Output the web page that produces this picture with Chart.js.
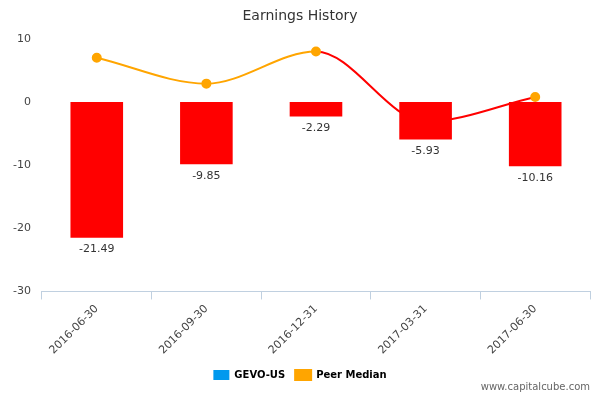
<!DOCTYPE html>
<html>
<head>
<script src="https://cdn.jsdelivr.net/npm/chart.js@4"></script>
<style>
  body { margin: 0; background: #fff; }
  #wrap { width: 600px; height: 400px; position: relative; }
  #mark { position: absolute; right: 10px; bottom: 8px; font: 10px "DejaVu Sans", sans-serif; color: #666; }
</style>
</head>
<body>
<div id="wrap"><canvas id="chart" width="600" height="400"></canvas><div id="mark">www.capitalcube.com</div></div>
<script>
const categories = ["2016-06-30", "2016-09-30", "2016-12-31", "2017-03-31", "2017-06-30"];
const earnings = [-21.49, -9.85, -2.29, -5.93, -10.16];
const peerMedian = [7, 2.9, 8, -3.1, 0.8];
const yTicks = [10, 0, -10, -20, -30];

const barLabels = {
  id: "barLabels",
  afterDatasetsDraw(chart) {
    const ctx = chart.ctx;
    const meta = chart.getDatasetMeta(0);
    ctx.save();
    ctx.font = "11px 'DejaVu Sans', sans-serif";
    ctx.fillStyle = "#333";
    ctx.textAlign = "center";
    ctx.textBaseline = "top";
    meta.data.forEach((bar, i) => {
      ctx.fillText(earnings[i].toFixed(2), bar.x, bar.y + 6);
    });
    ctx.restore();
  }
};

new Chart(document.getElementById("chart"), {
  type: "bar",
  data: {
    labels: categories,
    datasets: [
      {
        label: "GEVO-US",
        data: earnings,
        backgroundColor: "#ff0000",
        legendColor: "#0099ee",
        barPercentage: 0.48,
        categoryPercentage: 1,
        order: 2
      },
      {
        type: "line",
        label: "Peer Median",
        data: peerMedian,
        borderColor: "#ffa500",
        borderWidth: 2,
        cubicInterpolationMode: "monotone",
        tension: 0.4,
        pointRadius: 4,
        pointBackgroundColor: peerMedian.map(v => v < 0 ? "#ff0000" : "#ffa500"),
        pointBorderColor: peerMedian.map(v => v < 0 ? "#ff0000" : "#ffa500"),
        segment: {
          borderColor: c => (c.p1.parsed.y < 0 || c.p0.parsed.y < 0) && c.p0DataIndex >= 2 ? "#ff0000" : "#ffa500"
        },
        order: 1
      }
    ]
  },
  options: {
    responsive: false,
    animation: false,
    layout: { padding: { left: 10, right: 10, top: 0, bottom: 10 } },
    plugins: {
      title: {
        display: true,
        text: "Earnings History",
        font: { family: "DejaVu Sans", size: 14, weight: "normal" },
        color: "#333",
        padding: { top: 8, bottom: 14 }
      },
      legend: {
        position: "bottom",
        labels: {
          font: { family: "DejaVu Sans", size: 10, weight: "bold" },
          color: "#333",
          boxWidth: 16,
          boxHeight: 10,
          generateLabels(chart) {
            return [
              { text: "GEVO-US", fillStyle: "#0099ee", strokeStyle: "#0099ee", lineWidth: 0, datasetIndex: 0 },
              { text: "Peer Median", fillStyle: "#ffa500", strokeStyle: "#ffa500", lineWidth: 2, pointStyle: "line", datasetIndex: 1 }
            ];
          }
        }
      },
      tooltip: { enabled: false }
    },
    scales: {
      x: {
        offset: true,
        grid: { offset: true, drawOnChartArea: false, tickLength: 8, color: "#c0d0e0" },
        border: { color: "#c0d0e0" },
        ticks: {
          maxRotation: 45,
          minRotation: 45,
          color: "#444",
          font: { family: "DejaVu Sans", size: 11 }
        }
      },
      y: {
        min: -30,
        max: 10,
        afterBuildTicks(axis) { axis.ticks = yTicks.map(v => ({ value: v })); },
        grid: { display: false },
        border: { display: false },
        ticks: { color: "#444", font: { family: "DejaVu Sans", size: 11 } }
      }
    }
  },
  plugins: [barLabels]
});
</script>
</body>
</html>
